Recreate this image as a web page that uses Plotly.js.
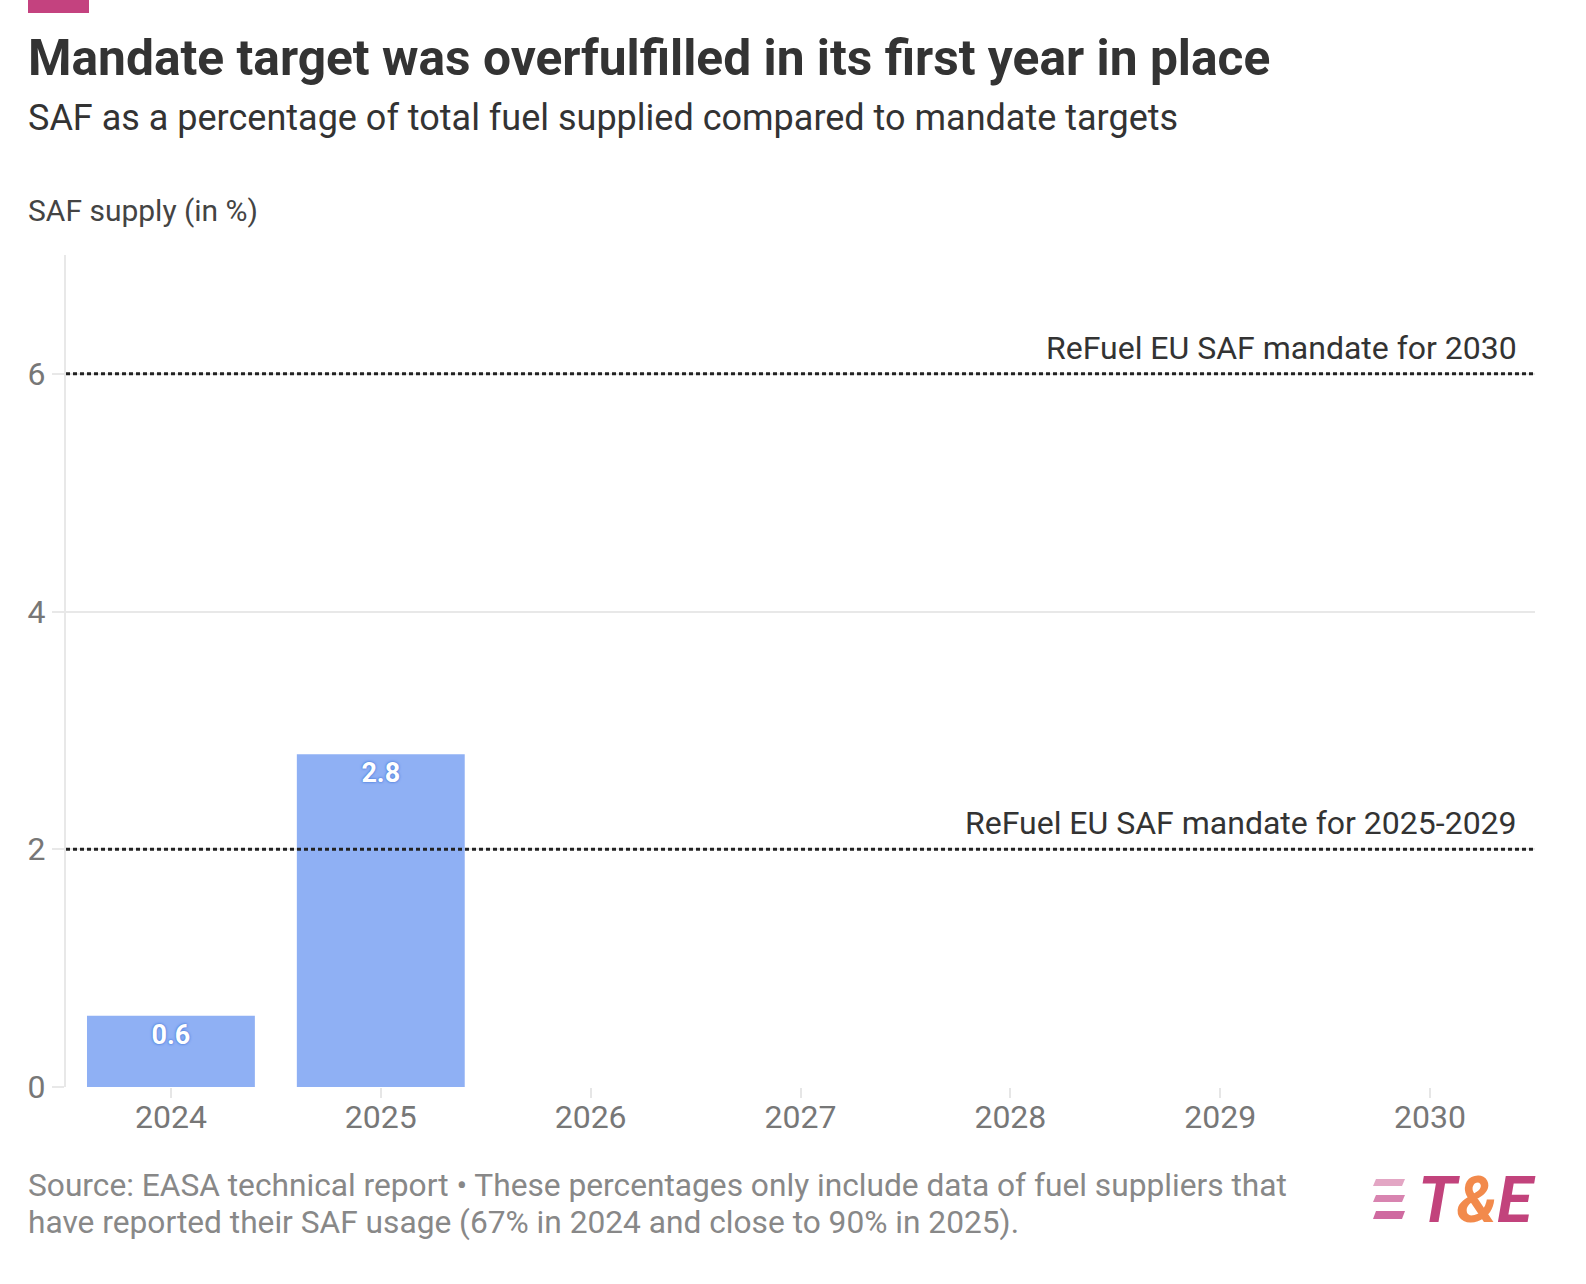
<!DOCTYPE html>
<html>
<head>
<meta charset="utf-8">
<script src="https://cdn.plot.ly/plotly-3.0.1.min.js"></script>
<style>
  html, body { margin: 0; padding: 0; background: #fff; }
  #chart { width: 1586px; height: 1284px; }
</style>
</head>
<body>
<div id="chart"></div>
<script>
// ---- data ----
const years = ["2024", "2025", "2026", "2027", "2028", "2029", "2030"];
const safSupply = [0.6, 2.8, null, null, null, null, null];
const barLabels = ["0.6", "2.8", "", "", "", "", ""];
const mandateValues = [2, 6];
const mandateLabels = ["ReFuel EU SAF mandate for 2025-2029", "ReFuel EU SAF mandate for 2030"];
const yTicks = [0, 2, 4, 6];

const titleText = "Mandate target was overfulfilled in its first year in place";
const subtitleText = "SAF as a percentage of total fuel supplied compared to mandate targets";
const yTitleText = "SAF supply (in %)";
const sourceLines = [
  "Source: EASA technical report • These percentages only include data of fuel suppliers that",
  "have reported their SAF usage (67% in 2024 and close to 90% in 2025)."
];

// ---- geometry helpers (pixel -> paper) ----
const W = 1586, H = 1284;
const M = { l: 66, r: 51, t: 255, b: 197 };
const PW = W - M.l - M.r, PH = H - M.t - M.b;
const px = x => (x - M.l) / PW;
const py = y => (H - M.b - y) / PH;

const FONT = "Roboto, 'Noto Sans', sans-serif";

const trace = {
  type: "bar",
  x: years,
  y: safSupply,
  text: barLabels,
  textposition: "inside",
  insidetextanchor: "end",
  textangle: 0,
  marker: { color: "#8fb0f4" },
  textfont: { family: FONT, size: 27, color: "#ffffff", weight: 700,
              shadow: "0px 0px 3px #4f7fdc, 0px 0px 2px #4f7fdc" },
  hoverinfo: "skip",
  cliponaxis: false
};

const shapes = [];
const annotations = [];

mandateValues.forEach((v, i) => {
  shapes.push({
    type: "line", xref: "paper", yref: "y", x0: 0, x1: 1, y0: v, y1: v,
    line: { color: "#222222", width: 3, dash: "4px,3px" }
  });
  annotations.push({
    xref: "paper", yref: "y", x: px(1519), y: v, xanchor: "right", yanchor: "bottom",
    yshift: 5, showarrow: false, text: mandateLabels[i],
    font: { family: FONT, size: 32, color: "#333333" }
  });
});

// header bar
shapes.push({
  type: "rect", xref: "paper", yref: "paper",
  x0: px(28), x1: px(89), y0: py(13), y1: py(-2),
  fillcolor: "#c4427f", line: { width: 0 }
});

// logo stripes
const stripeColors = ["#e3a6c4", "#d884b0", "#cf6aa0"];
[[1179, 1186], [1195, 1202], [1211, 1219]].forEach((s, i) => {
  const xl = 1373, xr = 1402, sk = 3;
  shapes.push({
    type: "path", xref: "paper", yref: "paper",
    path: `M ${px(xl + sk)} ${py(s[0])} L ${px(xr + sk)} ${py(s[0])} L ${px(xr)} ${py(s[1])} L ${px(xl)} ${py(s[1])} Z`,
    fillcolor: stripeColors[i], line: { width: 0 }
  });
});

annotations.push(
  { xref: "paper", yref: "paper", x: px(26), y: py(58), xanchor: "left", yanchor: "middle",
    showarrow: false, text: "<b>" + titleText + "</b>",
    font: { family: FONT, size: 49.7, color: "#333333" } },
  { xref: "paper", yref: "paper", x: px(26), y: py(118), xanchor: "left", yanchor: "middle",
    showarrow: false, text: subtitleText,
    font: { family: FONT, size: 36, color: "#333333" } },
  { xref: "paper", yref: "paper", x: px(26), y: py(211), xanchor: "left", yanchor: "middle",
    showarrow: false, text: yTitleText,
    font: { family: FONT, size: 30, color: "#444444" } },
  { xref: "paper", yref: "paper", x: px(1416), y: py(1200), xanchor: "left", yanchor: "middle",
    showarrow: false,
    text: "<b><i>T<span style='color:#f28a4c'>&</span>E</i></b>",
    font: { family: FONT, size: 64, color: "#c2437c", weight: 900 } }
);
sourceLines.forEach((t, i) => {
  annotations.push({
    xref: "paper", yref: "paper", x: px(26), y: py(1185 + 37 * i), xanchor: "left", yanchor: "middle",
    showarrow: false, text: t,
    font: { family: FONT, size: 31.7, color: "#888888" }
  });
});

const layout = {
  width: W, height: H,
  margin: M,
  paper_bgcolor: "#ffffff",
  plot_bgcolor: "#ffffff",
  showlegend: false,
  bargap: 0.2,
  xaxis: {
    type: "category",
    range: [-0.5, 6.5],
    showgrid: false,
    zeroline: false,
    showline: false,
    ticks: "outside", ticklen: 10, tickwidth: 2, tickcolor: "#e6e6e6",
    ticklabelstandoff: -8,
    tickfont: { family: FONT, size: 32, color: "#777777" },
    fixedrange: true
  },
  yaxis: {
    range: [0, 7],
    tickvals: yTicks,
    ticktext: yTicks.map(String),
    showgrid: true, gridcolor: "#e8e8e8", gridwidth: 2,
    zeroline: false,
    showline: true, linecolor: "#e8e8e8", linewidth: 2,
    ticks: "outside", ticklen: 12, tickwidth: 2, tickcolor: "#e8e8e8",
    tickfont: { family: FONT, size: 32, color: "#777777" },
    fixedrange: true
  },
  shapes: shapes,
  annotations: annotations
};

Plotly.newPlot("chart", [trace], layout, { displayModeBar: false, staticPlot: true });
</script>
</body>
</html>
